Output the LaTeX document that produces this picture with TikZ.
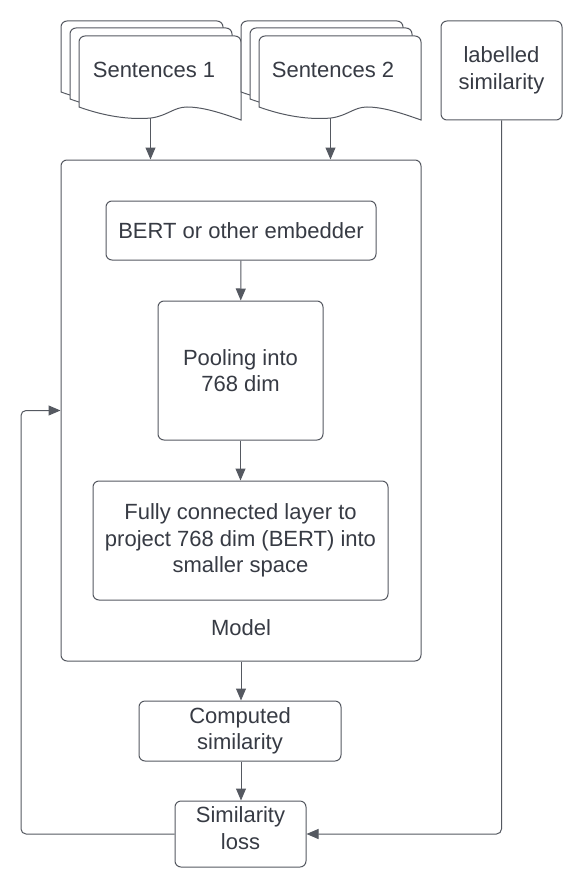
\documentclass[tikz,border=0pt]{standalone}
\usepackage{fontspec}
\setmainfont{Liberation Sans}
\usetikzlibrary{arrows.meta}

\definecolor{linecol}{RGB}{85,89,97}
\definecolor{textcol}{RGB}{55,59,68}

\tikzset{
  box/.style={draw=linecol, line width=1pt, rounded corners=6pt, fill=white,
    align=center, text=textcol, inner sep=0pt, font=\fontsize{22}{26.5}\selectfont},
  lbl/.style={text=textcol, align=center, inner sep=0pt, font=\fontsize{22}{26.5}\selectfont},
  flow/.style={draw=linecol, line width=1pt, -{Triangle[length=12pt,width=10pt]}},
  page/.style={draw=linecol, line width=1pt, fill=white},
}

% one sheet of a document stack, top left corner at (#1,#2)
\newcommand\docpage[2]{%
  \filldraw[page] (#1,#2+71) {[rounded corners=6pt] -- (#1,#2) -- (#1+162,#2)} -- (#1+162,#2+84)
    .. controls (#1+145,#2+78) and (#1+125,#2+71) .. (#1+108,#2+71)
    .. controls (#1+95,#2+71) and (#1+88,#2+80) .. (#1+72,#2+82)
    .. controls (#1+50,#2+84) and (#1+25,#2+80) .. cycle;}

\begin{document}
\begin{tikzpicture}[x=1pt, y=-1pt]
    \useasboundingbox (0,0) rectangle (581,888);

    % Input sentences (stacks of documents)
    \docpage{61}{21}
    \docpage{70}{28}
    \docpage{79}{36}
    \node[lbl] (sent1) at (154,70) {Sentences 1};
    \coordinate (s1out) at (150.5,118);

    \docpage{241}{21}
    \docpage{250}{28}
    \docpage{259}{36}
    \node[lbl] (sent2) at (333,70) {Sentences 2};
    \coordinate (s2out) at (330.5,118);

    % Labels
    \node[box, minimum width=121pt, minimum height=99pt] (label) at (501.5,70.5) {labelled\\similarity};

    % Model and its layers
    \node[box, minimum width=360pt, minimum height=501pt] (model) at (241,410.5) {};
    \node[box, minimum width=270pt, minimum height=59pt] (bert) at (241,230.5) {BERT or other embedder};
    \node[box, minimum width=165pt, minimum height=139pt] (pool) at (240.5,370.5) {Pooling into\\768 dim};
    \node[box, minimum width=295pt, minimum height=119pt] (fc) at (240.5,540.5) {Fully connected layer to\\project 768 dim (BERT) into\\smaller space};
    \node[lbl] (modelname) at (241,628) {Model};

    % Outputs
    \node[box, minimum width=202pt, minimum height=60pt] (comp) at (240,731) {Computed\\similarity};
    \node[box, minimum width=131pt, minimum height=66pt, text depth=12pt] (loss) at (240.5,834) {Similarity\\loss};
    \coordinate (back) at (21,834);

    % Connectors
    \draw[flow] (s1out) -- (s1out |- model.north);
    \draw[flow] (s2out) -- (s2out |- model.north);
    \draw[flow] (bert) -- (pool);
    \draw[flow] (pool) -- (fc);
    \draw[flow] (model.south) -- (model.south |- comp.north);
    \draw[flow] (comp.south -| model.south) -- (model.south |- loss.north);
    \draw[flow, rounded corners=5pt] (label.south) |- (loss.east);
    \draw[flow, rounded corners=5pt] (loss.west) -- (back) |- (model.west);

\end{tikzpicture}
\end{document}
